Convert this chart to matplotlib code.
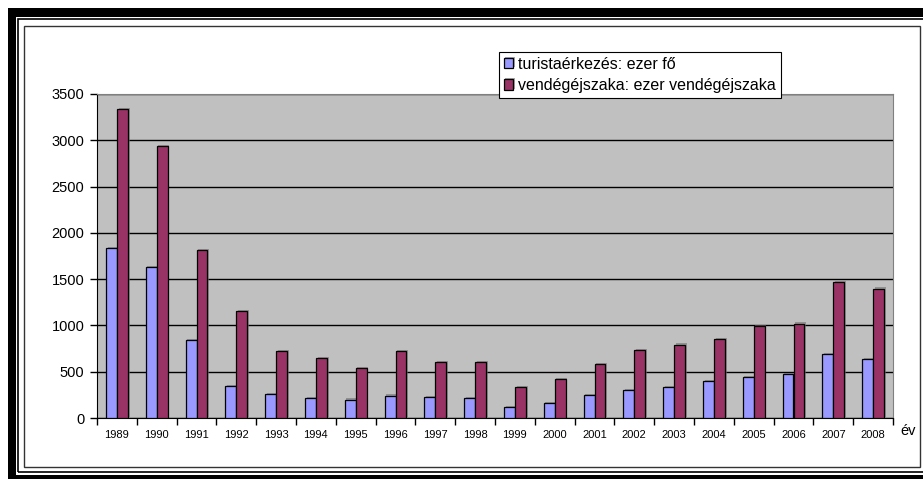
import matplotlib.pyplot as plt
import matplotlib.patheffects as pe
from matplotlib.patches import Rectangle
import numpy as np

plt.rcParams['font.family'] = ['Liberation Sans', 'DejaVu Sans']

evek = ['1989', '1990', '1991', '1992', '1993', '1994', '1995', '1996', '1997', '1998',
        '1999', '2000', '2001', '2002', '2003', '2004', '2005', '2006', '2007', '2008']
turista = [1833, 1628, 839, 346, 263, 220, 199, 242, 227, 220,
           123, 159, 245, 306, 335, 396, 447, 472, 695, 641]
vendegej = [3335, 2942, 1811, 1152, 727, 648, 540, 724, 605, 605,
            339, 425, 587, 738, 793, 857, 998, 1020, 1473, 1398]

W, H = 923, 479
fig = plt.figure(figsize=(W / 100, H / 100), dpi=100)


def px(x0, y0, x1, y1, **kw):
    # rectangle in pixel coords, y measured from the top
    fig.patches.append(Rectangle((x0 / W, 1 - y1 / H), (x1 - x0) / W, (y1 - y0) / H,
                                 transform=fig.transFigure, zorder=-10, **kw))


# keret
px(8, 8, 940, 490, facecolor='black', edgecolor='none')
px(16, 17, 940, 474.5, facecolor='white', edgecolor='none')
px(17.5, 19, 940, 472, facecolor='none', edgecolor='black', linewidth=1.2)
px(24, 25.5, 920, 467, facecolor='white', edgecolor='#333333', linewidth=1)

ax = fig.add_axes([97 / W, 1 - 418 / H, (893 - 97) / W, (418 - 94) / H])
ax.set_facecolor('#C0C0C0')

x = np.arange(len(evek))
w = 0.276
arnyek = [pe.SimplePatchShadow(offset=(1.2, 0.8), shadow_rgbFace='#707070', alpha=0.6), pe.Normal()]
b1 = ax.bar(x - w / 2, turista, w, color='#9999FF', edgecolor='black', linewidth=0.9,
            label='turistaérkezés: ezer fő', zorder=3)
b2 = ax.bar(x + w / 2, vendegej, w, color='#993366', edgecolor='black', linewidth=0.9,
            label='vendégéjszaka: ezer vendégéjszaka', zorder=3)
for b in list(b1) + list(b2):
    b.set_path_effects(arnyek)

ax.set_xlim(-0.5, len(evek) - 0.5)
ax.set_ylim(0, 3500)
ax.set_yticks(range(0, 3501, 500))
ax.yaxis.grid(True, color='black', linewidth=1, zorder=1)
ax.set_axisbelow(True)
ax.tick_params(axis='y', labelsize=10.5, length=5, width=1, direction='out', pad=4)

ax.set_xticks(x)
ax.set_xticklabels(evek, fontsize=8)
ax.tick_params(axis='x', length=0, pad=9)
ax.set_xticks(np.arange(-0.5, len(evek), 1), minor=True)
ax.tick_params(axis='x', which='minor', length=5, width=1, direction='out')

for s in ['top', 'right']:
    ax.spines[s].set_color('#808080')
for s in ['left', 'bottom']:
    ax.spines[s].set_color('black')

fig.text(900 / W, 1 - 431 / H, 'év', fontsize=10.5, ha='left', va='center')

leg = ax.legend(loc='upper left', bbox_to_anchor=(499 / W, 1 - 52 / H),
                bbox_transform=fig.transFigure, fontsize=11.5, frameon=True, fancybox=False,
                edgecolor='black', framealpha=1, handlelength=0.6, handleheight=0.6,
                handletextpad=0.3, borderpad=0.3, labelspacing=0.4, borderaxespad=0)
leg.get_frame().set_linewidth(0.8)
leg.set_zorder(10)

fig.savefig('out.png', dpi=100)
